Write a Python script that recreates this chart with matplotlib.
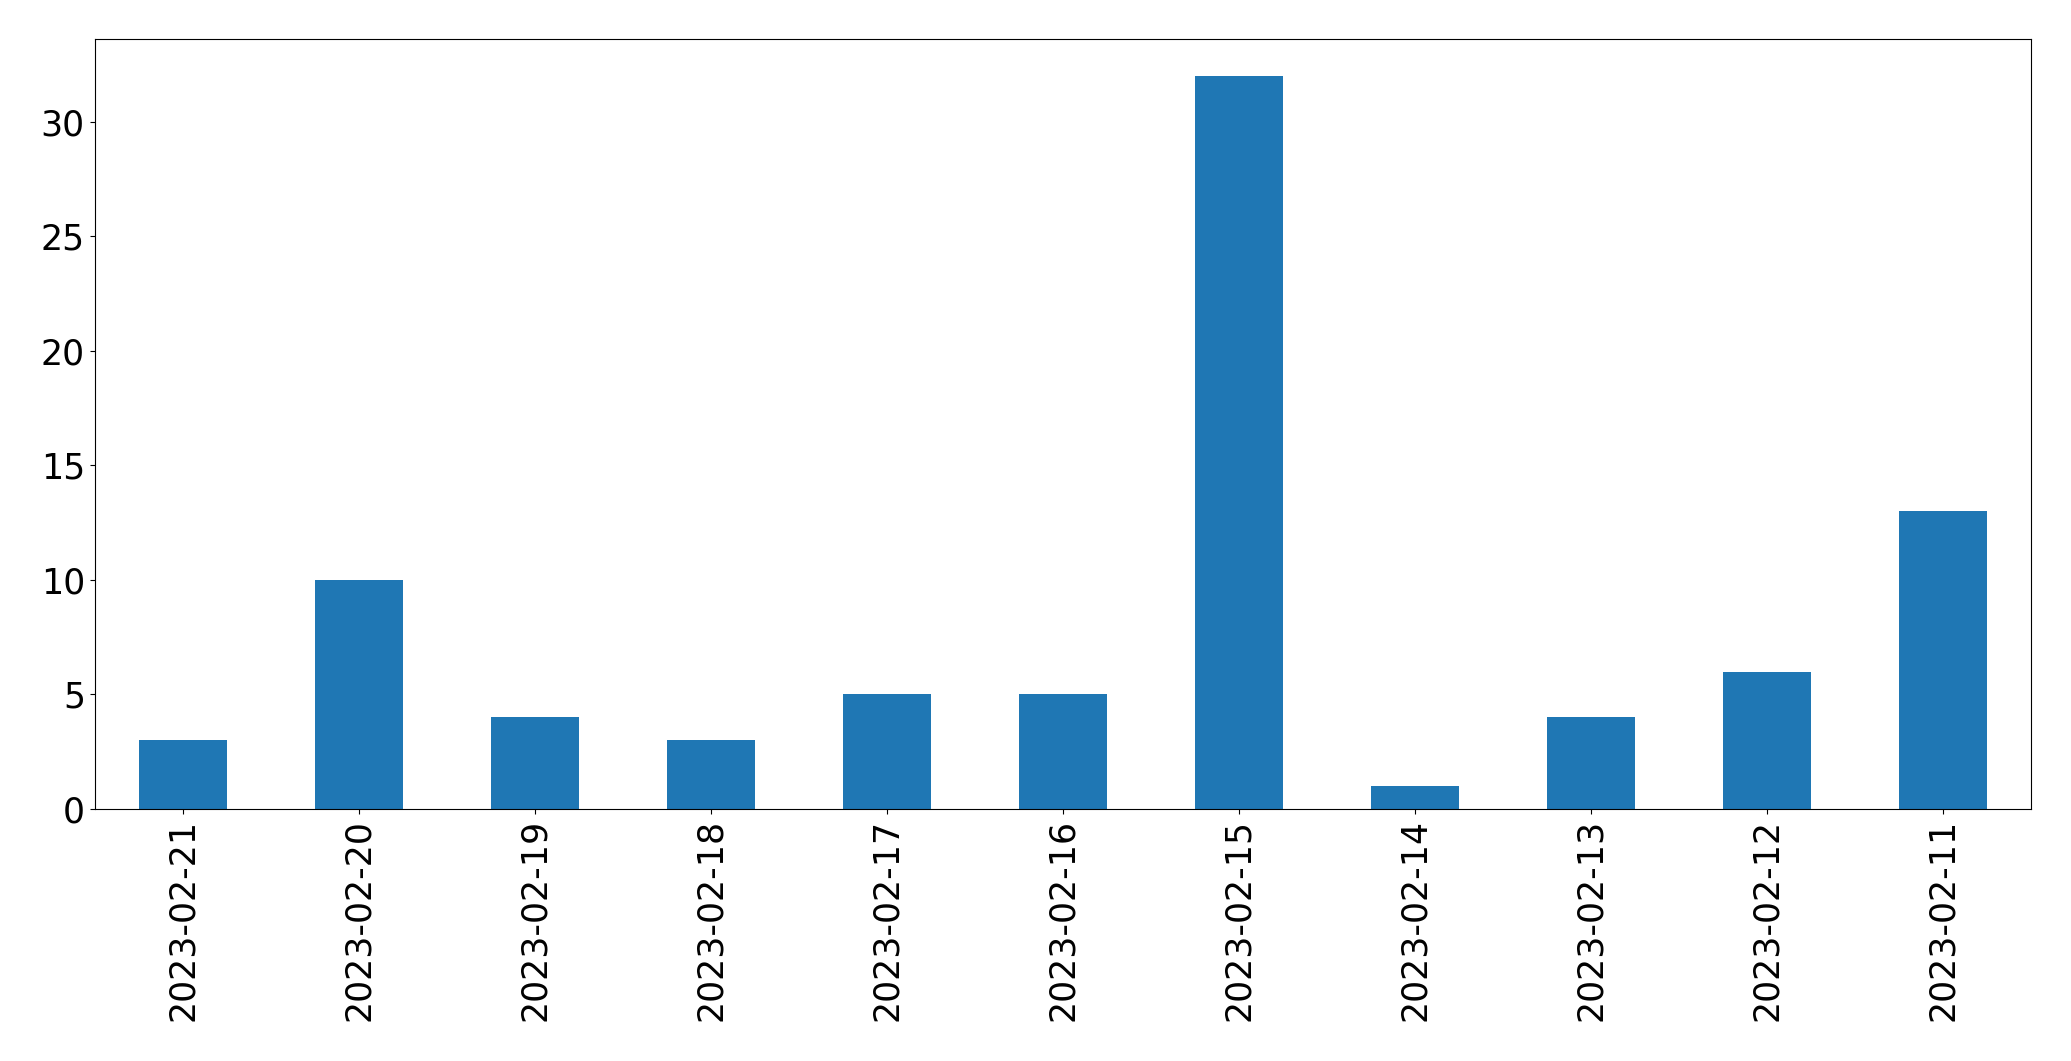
import matplotlib
matplotlib.use("Agg")
import matplotlib.pyplot as plt

dates = ["2023-02-21", "2023-02-20", "2023-02-19", "2023-02-18", "2023-02-17",
         "2023-02-16", "2023-02-15", "2023-02-14", "2023-02-13", "2023-02-12", "2023-02-11"]
counts = [3, 10, 4, 3, 5, 5, 32, 1, 4, 6, 13]

fig = plt.figure(figsize=(20.71, 10.61), dpi=100)
ax = fig.add_axes([0.0457, 0.2375, 0.9350, 0.7255])
x = list(range(len(dates)))
ax.bar(x, counts, width=0.5, color="#1f77b4")
ax.set_xlim(-0.5, len(dates) - 0.5)
ax.set_xticks(x)
ax.set_xticklabels(dates, rotation=90, fontsize=25)
ax.tick_params(axis="y", labelsize=25)
fig.savefig("out.png", dpi=100)
